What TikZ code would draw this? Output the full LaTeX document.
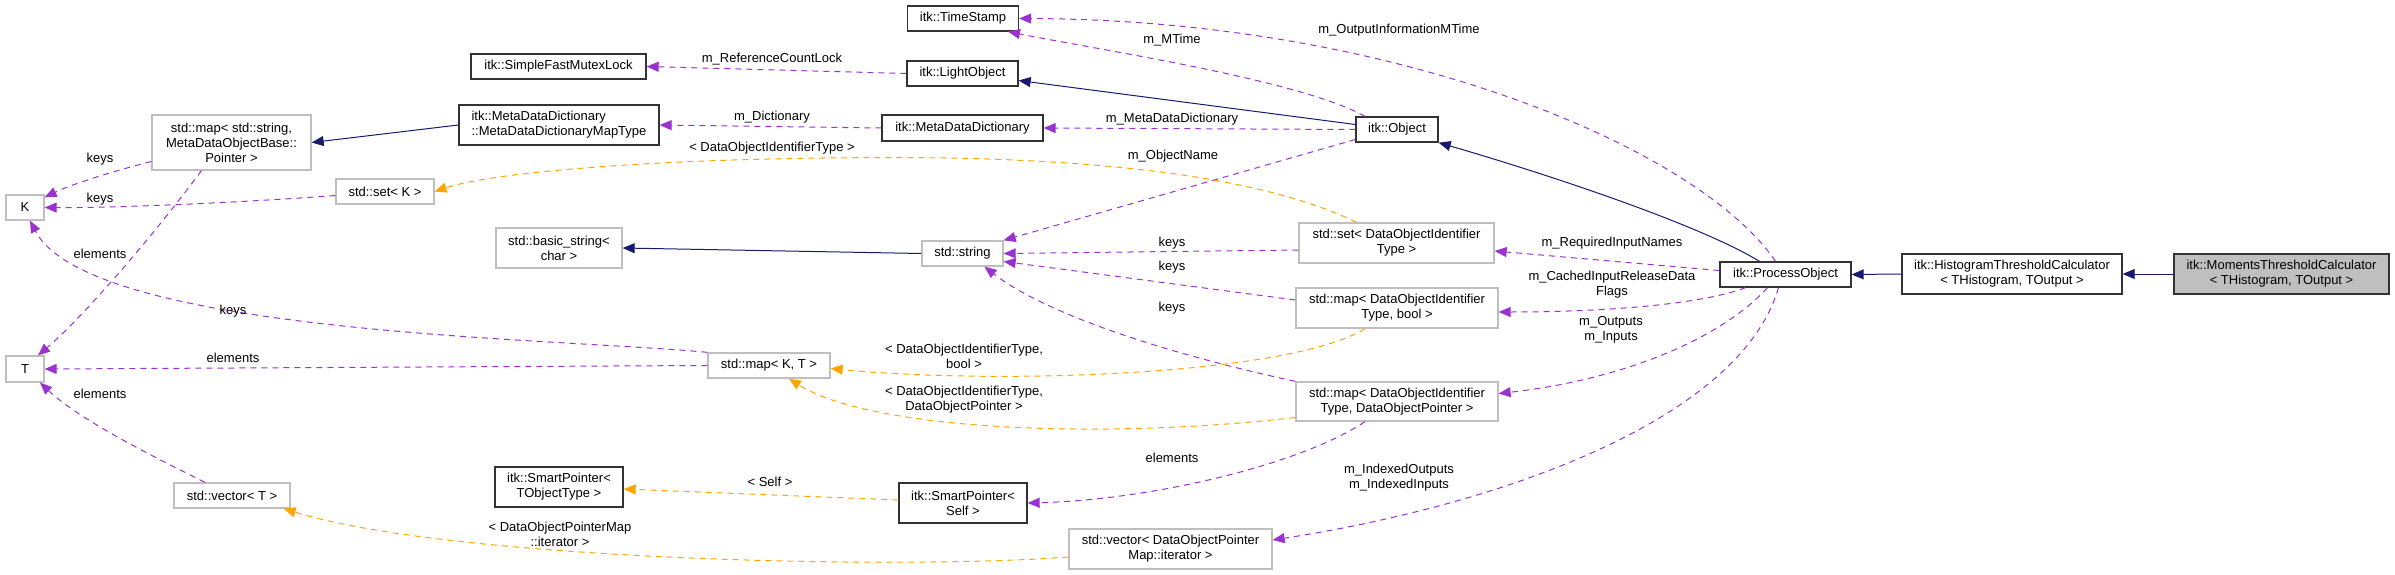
\documentclass[tikz,border=0pt]{standalone}
\usepackage{fontspec}
\setmainfont{Liberation Sans}
\usetikzlibrary{arrows.meta}
\definecolor{purp}{HTML}{9A32CD}
\definecolor{orng}{HTML}{FFA500}
\definecolor{navy}{HTML}{191970}
\definecolor{gbord}{HTML}{BFBFBF}
\newcommand\lblfont{\fontsize{13}{15}\selectfont}
\tikzset{
 cls/.style={draw=black!80, line width=1.3pt, fill=white, inner sep=0pt, align=center, font=\lblfont},
 gcls/.style={cls, draw=gbord},
 tip/.style={-{Triangle[length=12pt,width=10pt]}},
 dep/.style={draw=purp, line width=1pt, dash pattern=on 6pt off 5pt, tip},
 tpl/.style={dep, draw=orng},
 inh/.style={draw=navy, line width=1pt, tip},
 lab/.style={font=\lblfont, align=center, inner sep=0pt}
}
\begin{document}
\begin{tikzpicture}[x=1pt,y=-1pt]
\useasboundingbox (0,0) rectangle (2395,575);
% nodes
\node[cls, minimum width=111, minimum height=25] (ts) at (963,18.5) {itk::TimeStamp};
\node[cls, minimum width=175, minimum height=25] (sfml) at (558.5,66.5) {itk::SimpleFastMutexLock};
\node[cls, minimum width=111, minimum height=25] (lo) at (962.5,73.5) {itk::LightObject};
\node[gcls, minimum width=159, minimum height=55] (mstr) at (231.5,142.5) {std::map{\char`<} std::string,\\ MetaDataObjectBase::\\ Pointer {\char`>}};
\node[cls, minimum width=200, minimum height=40, align=left] (mdt) at (559,125) {itk::MetaDataDictionary\\::MetaDataDictionaryMapType};
\node[cls, minimum width=161, minimum height=26] (mdd) at (962.5,128) {itk::MetaDataDictionary};
\node[cls, minimum width=82, minimum height=25] (obj) at (1397,129.5) {itk::Object};
\node[gcls, minimum width=38, minimum height=25] (K) at (25,207.5) {K};
\node[gcls, minimum width=98, minimum height=25] (setK) at (385,191.5) {std::set{\char`<} K {\char`>}};
\node[gcls, minimum width=126, minimum height=40] (bstr) at (559,248) {std::basic\_string{\char`<}\\ char {\char`>}};
\node[gcls, minimum width=81, minimum height=25] (str) at (962.5,253.5) {std::string};
\node[gcls, minimum width=195, minimum height=40] (setD) at (1396.5,243) {std::set{\char`<} DataObjectIdentifier\\ Type {\char`>}};
\node[gcls, minimum width=202, minimum height=40] (mapB) at (1397,308) {std::map{\char`<} DataObjectIdentifier\\ Type, bool {\char`>}};
\node[gcls, minimum width=202, minimum height=39] (mapD) at (1397,401.5) {std::map{\char`<} DataObjectIdentifier\\ Type, DataObjectPointer {\char`>}};
\node[cls, minimum width=131, minimum height=25] (po) at (1785.5,274.5) {itk::ProcessObject};
\node[cls, minimum width=220, minimum height=40] (htc) at (2012,274) {itk::HistogramThresholdCalculator\\ {\char`<} THistogram, TOutput {\char`>}};
\node[cls, fill=gbord, minimum width=215, minimum height=40] (mom) at (2281.5,274) {itk::MomentsThresholdCalculator\\ {\char`<} THistogram, TOutput {\char`>}};
\node[gcls, minimum width=38, minimum height=26] (T) at (25,369) {T};
\node[gcls, minimum width=122, minimum height=25] (mKT) at (769,365.5) {std::map{\char`<} K, T {\char`>}};
\node[cls, minimum width=128, minimum height=40] (spT) at (559,487) {itk::SmartPointer{\char`<}\\ TObjectType {\char`>}};
\node[cls, minimum width=128, minimum height=40] (spS) at (963,503) {itk::SmartPointer{\char`<}\\ Self {\char`>}};
\node[gcls, minimum width=116, minimum height=25] (vT) at (232,495.5) {std::vector{\char`<} T {\char`>}};
\node[gcls, minimum width=203, minimum height=40] (vD) at (1170.5,549) {std::vector{\char`<} DataObjectPointer\\ Map::iterator {\char`>}};
% edges
\draw[inh] (mdt.west) -- (mstr.east);
\draw[dep] (lo.west) -- (sfml.east);
\draw[dep] (mdd.west) -- (mdt.east);
\draw[inh] ([yshift=5pt]obj.west) -- ([yshift=-7pt]lo.east);
\draw[dep] ([xshift=-32pt]obj.north) .. controls (1300,80) and (1100,50) .. ([xshift=45pt]ts.south);
\draw[dep] ([xshift=-10pt]po.north) .. controls (1700,150) and (1400,20) .. (ts.east);
\draw[dep] (obj.west) -- (mdd.east);
\draw[dep] ([yshift=-10pt]obj.west) -- (str.north east);
\draw[inh] ([xshift=-26pt]po.north) .. controls (1700,225) and (1550,175) .. (obj.south east);
\draw[tpl] ([xshift=-40pt]setD.north) .. controls (1280,185) and (1150,162) .. (950,158) .. controls (700,155) and (500,170) .. (setK.east);
\draw[dep] ([yshift=-7pt]setD.west) -- (str.east);
\draw[dep] ([yshift=8pt]mapB.west) -- ([yshift=-8pt]str.east);
\draw[dep] (mapD.north west) .. controls (1150,350) and (1040,310) .. ([xshift=22pt]str.south);
\draw[tpl] ([xshift=-32pt]mapB.south) .. controls (1290,375) and (1000,385) .. ([yshift=-3pt]mKT.east);
\draw[tpl] ([yshift=-16pt]mapD.west) .. controls (1100,440) and (870,430) .. ([xshift=20pt]mKT.south);
\draw[dep] ([xshift=-32pt]mapD.south) .. controls (1300,465) and (1150,500) .. (spS.east);
\draw[tpl] ([yshift=3pt]spS.west) -- ([yshift=-2pt]spT.east);
\draw[inh] (str.west) -- (bstr.east);
\draw[tpl] ([yshift=-8pt]vD.west) .. controls (900,570) and (450,560) .. ([xshift=-7pt]vT.south east);
\draw[dep] ([yshift=4pt]po.west) -- ([yshift=-8pt]setD.east);
\draw[dep] ([xshift=-40pt]po.south) .. controls (1700,305) and (1600,312) .. ([yshift=-4pt]mapB.east);
\draw[dep] ([xshift=-18pt]po.south) .. controls (1720,340) and (1620,380) .. ([yshift=8pt]mapD.east);
\draw[dep] ([xshift=-7pt]po.south) .. controls (1740,420) and (1500,505) .. ([yshift=9pt]vD.east);
\draw[inh] (htc.west) -- (po.east);
\draw[inh] (mom.west) -- (htc.east);
\draw[dep] ([yshift=-19pt]mstr.west) .. controls (110,172) and (70,185) .. ([yshift=-3pt]K.north east);
\draw[dep] ([yshift=-4pt]setK.west) .. controls (250,202) and (120,208) .. (K.east);
\draw[dep] ([xshift=-30pt]mstr.south) .. controls (150,240) and (80,320) .. ([xshift=13pt]T.north);
\draw[dep] (mKT.north west) .. controls (560,338) and (90,335) .. ([xshift=5pt]K.south);
\draw[dep] (mKT.west) -- (T.east);
\draw[dep] ([xshift=-27pt]vT.north) .. controls (150,455) and (80,420) .. ([xshift=15pt]T.south);
% labels
\node[lab] (l1) at (772,59) {m\_ReferenceCountLock};
\node[lab] (l2) at (772,117) {m\_Dictionary};
\node[lab] (l3) at (772,148) {{\char`<} DataObjectIdentifierType {\char`>}};
\node[lab] (l4) at (1172,40) {m\_MTime};
\node[lab] (l5) at (1399,30) {m\_OutputInformationMTime};
\node[lab] (l6) at (1172,119) {m\_MetaDataDictionary};
\node[lab] (l7) at (1173,156) {m\_ObjectName};
\node[lab] (l8) at (1172,243) {keys};
\node[lab] (l9) at (1172,267) {keys};
\node[lab] (l10) at (1172,308) {keys};
\node[lab] (l11) at (964,356) {{\char`<} DataObjectIdentifierType,\\ bool {\char`>}};
\node[lab] (l12) at (964,400) {{\char`<} DataObjectIdentifierType,\\ DataObjectPointer {\char`>}};
\node[lab] (l13) at (1172,458) {elements};
\node[lab] (l14) at (1399,478) {m\_IndexedOutputs\\m\_IndexedInputs};
\node[lab] (l15) at (770,482) {{\char`<} Self {\char`>}};
\node[lab] (l16) at (560,534) {{\char`<} DataObjectPointerMap\\ ::iterator {\char`>}};
\node[lab] (l17) at (1612,243) {m\_RequiredInputNames};
\node[lab] (l18) at (1612,285) {m\_CachedInputReleaseData\\Flags};
\node[lab] (l19) at (1611,330) {m\_Outputs\\m\_Inputs};
\node[lab] (l20) at (100,159) {keys};
\node[lab] (l21) at (100,199) {keys};
\node[lab] (l22) at (100,254) {elements};
\node[lab] (l23) at (233,311) {keys};
\node[lab] (l24) at (233,358) {elements};
\node[lab] (l25) at (100,394) {elements};
\end{tikzpicture}
\end{document}
